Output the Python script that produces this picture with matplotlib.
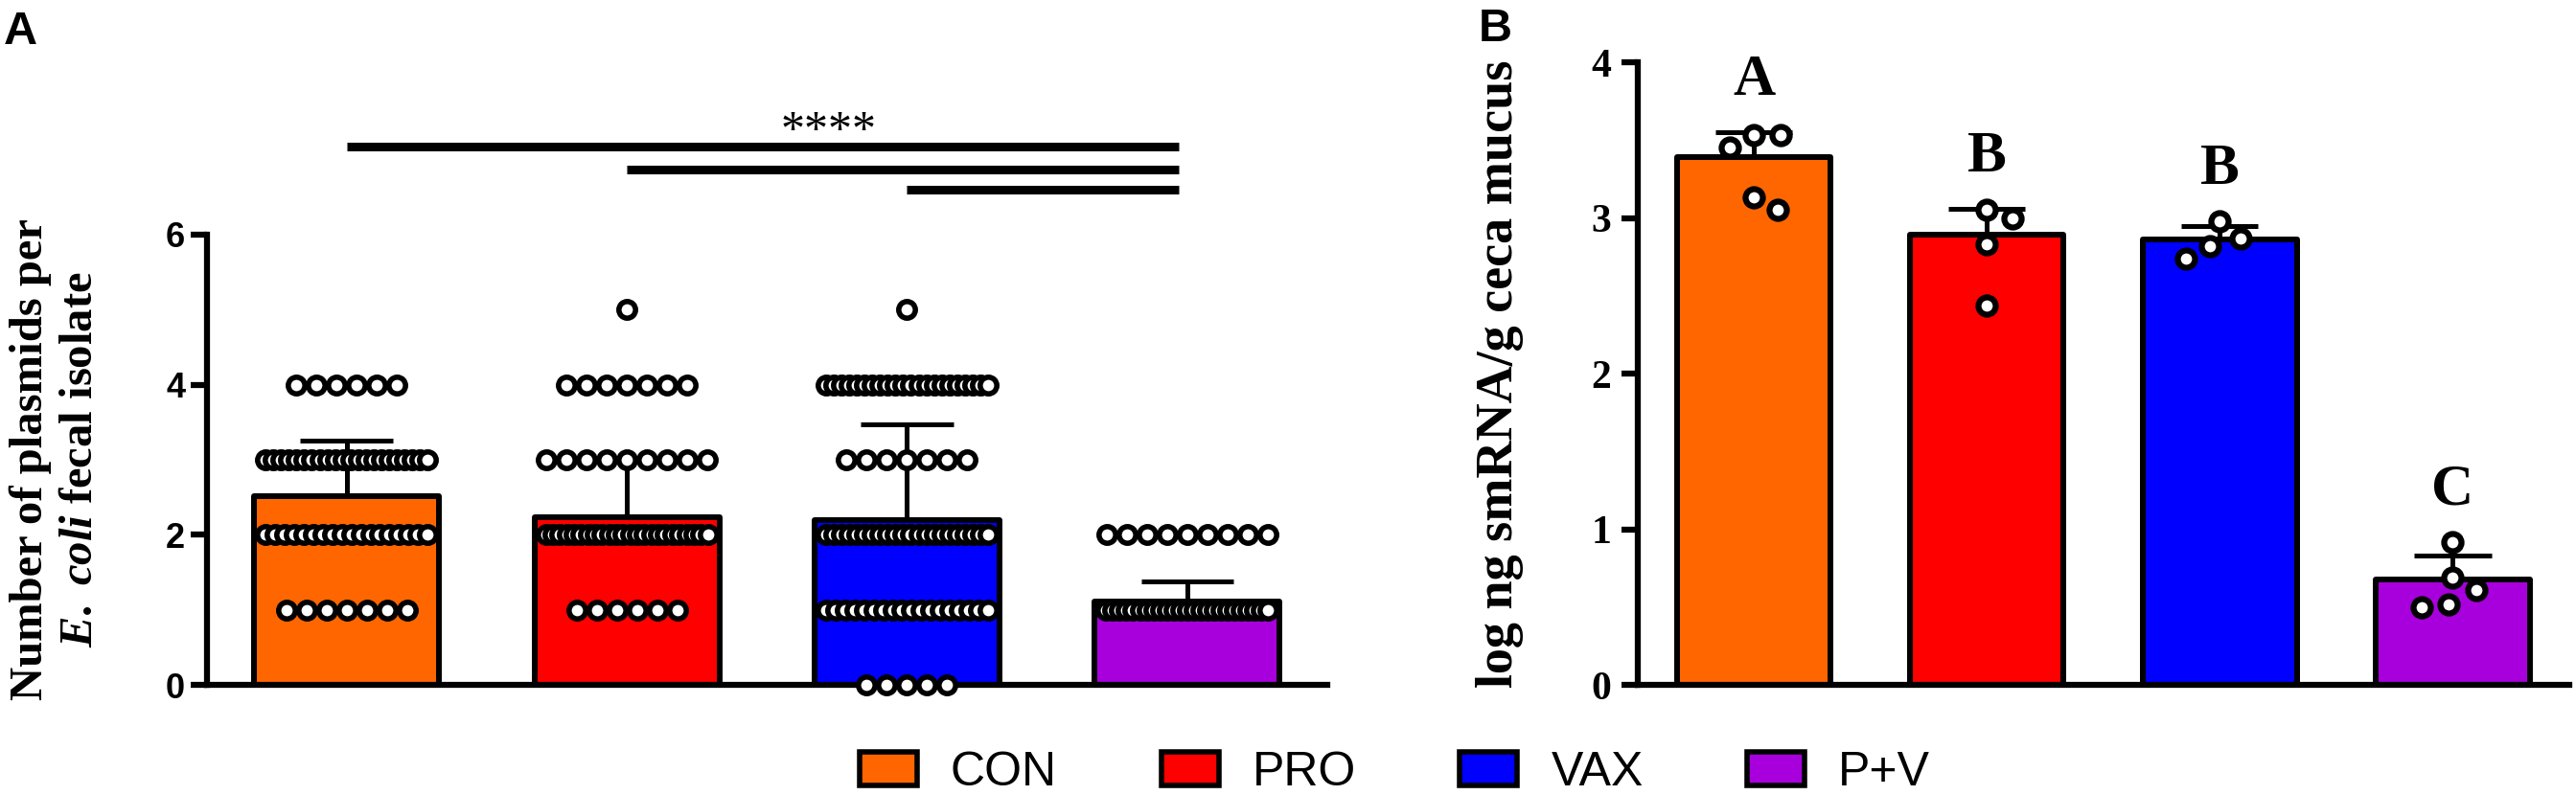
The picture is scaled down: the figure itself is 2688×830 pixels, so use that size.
import numpy as np
import matplotlib
matplotlib.use('Agg')
import matplotlib.pyplot as plt
from matplotlib.patches import Patch

# ---------------- data ----------------
groups = ['CON', 'PRO', 'VAX', 'P+V']
colors = ['#FF6600', '#FF0000', '#0000FF', '#A800DD']

# Panel A: number of plasmids per isolate -> how many isolates at each level
a_levels = [5, 4, 3, 2, 1, 0]
a_counts_con = [0, 6, 22, 18, 7, 0]
a_counts_pro = [1, 7, 9, 24, 6, 0]
a_counts_vax = [1, 22, 7, 22, 18, 5]
a_counts_pv = [0, 0, 0, 9, 25, 0]
a_mean = [2.52, 2.23, 2.20, 1.11]
a_sd = [0.73, 0.74, 1.27, 0.27]
a_sig_starts = [0, 1, 2]      # comparison lines: group index -> P+V
a_sig_end = 3
a_sig_text = '****'

# Panel B: log ng smRNA / g ceca mucus
b_con = [3.53, 3.53, 3.45, 3.13, 3.05]
b_pro = [3.05, 3.00, 2.83, 2.44]
b_vax = [2.98, 2.87, 2.82, 2.74]
b_pv = [0.92, 0.69, 0.61, 0.52, 0.50]
b_mean = [3.39, 2.89, 2.86, 0.68]
b_sem = [0.16, 0.17, 0.09, 0.15]
b_letters = ['A', 'B', 'B', 'C']

a_yticks = [0, 2, 4, 6]
b_yticks = [0, 1, 2, 3, 4]

# ---------------- style ----------------
SERIF = ['Liberation Serif', 'DejaVu Serif']
SANS = ['Liberation Sans', 'DejaVu Sans']
NARROW = ['Liberation Sans Narrow', 'Liberation Sans', 'DejaVu Sans']
plt.rcParams['mathtext.fontset'] = 'custom'
plt.rcParams['mathtext.rm'] = 'Liberation Serif:bold'
plt.rcParams['mathtext.it'] = 'Liberation Serif:italic:bold'
plt.rcParams['mathtext.bf'] = 'Liberation Serif:bold'

W, H = 2688, 830
fig = plt.figure(figsize=(W / 100, H / 100), dpi=100)
fig.patch.set_facecolor('white')

axA = fig.add_axes([215.5 / W, 115 / H, (1385 - 215.5) / W, (715 - 245) / H])
axB = fig.add_axes([1708.5 / W, 115 / H, (2681 - 1708.5) / W, (715 - 65) / H])

LW = 4.5
BAR_W = 0.66
x = np.arange(len(groups))


def style_axes(ax, ylim, yticks, label_font, label_size, pad):
    ax.set_xlim(-0.5, 3.5)
    ax.set_ylim(*ylim)
    ax.set_xticks([])
    ax.set_yticks(yticks)
    ax.set_yticklabels([str(t) for t in yticks], family=label_font,
                       fontweight='bold', fontsize=label_size)
    for s in ['top', 'right']:
        ax.spines[s].set_visible(False)
    for s in ['left', 'bottom']:
        ax.spines[s].set_linewidth(LW)
        ax.spines[s].set_capstyle('projecting')
    ax.tick_params(axis='y', length=12.5, width=LW, direction='out', pad=pad)
    ax.patch.set_alpha(0)


style_axes(axA, (0, 6), a_yticks, SANS, 26, 3.6)
style_axes(axB, (0, 4), b_yticks, SERIF, 30, 7.2)


def px_per_unit(ax):
    t = ax.transData
    return (t.transform((1, 0))[0] - t.transform((0, 0))[0],
            t.transform((0, 1))[1] - t.transform((0, 0))[1])


def draw_bars(ax, means):
    ax.bar(x, means, width=BAR_W, color=colors, edgecolor='black',
           linewidth=4.3, joinstyle='round', zorder=2)


def draw_err(ax, means, err, cap_w):
    tops = np.array(means) + np.array(err)
    ax.vlines(x, means, tops, colors='black', linewidth=3.6, zorder=3)
    ax.hlines(tops, x - cap_w / 2, x + cap_w / 2, colors='black',
              linewidth=3.6, zorder=3, clip_on=False)
    return tops


# ---------- Panel A ----------
draw_bars(axA, a_mean)
draw_err(axA, a_mean, a_sd, 0.33)

pxA, pyA = px_per_unit(axA)
spacing = 21 / pxA
maxspan = 169 / pxA
for gi, counts in enumerate([a_counts_con, a_counts_pro, a_counts_vax, a_counts_pv]):
    xs, ys = [], []
    for lev, n in zip(a_levels, counts):
        if n == 0:
            continue
        s = min(spacing, maxspan / (n - 1)) if n > 1 else 0
        for i in range(n):
            xs.append(gi + (i - (n - 1) / 2) * s)
            ys.append(lev)
    axA.plot(xs, ys, 'o', ms=12.5, mfc='white', mec='black', mew=4,
             ls='none', clip_on=False, zorder=4)

# significance lines
sig_y = [7.17, 6.87, 6.60]
for st, yy in zip(a_sig_starts, sig_y):
    axA.plot([st, a_sig_end - 0.03], [yy, yy], color='black', lw=6.5,
             solid_capstyle='butt', clip_on=False)
axA.text(1.72, 7.21, a_sig_text, ha='center', va='baseline', fontsize=36,
         family=SERIF)

# ---------- Panel B ----------
draw_bars(axB, b_mean)
b_tops = draw_err(axB, b_mean, b_sem, 0.33)

pxB, pyB = px_per_unit(axB)


def swarm(values, d_px):
    ys = [v * pyB for v in values]
    order = sorted(range(len(values)), key=lambda i: -values[i])
    placed = []
    offs = [0.0] * len(values)
    for i in order:
        y = ys[i]
        cands = [0.0]
        for pdx, py in placed:
            dy = abs(y - py)
            if dy < d_px:
                w = np.sqrt(d_px ** 2 - dy ** 2)
                cands += [pdx + w, pdx - w]
        valid = [c for c in cands
                 if all(np.hypot(c - pdx, y - py) >= d_px - 1e-6 for pdx, py in placed)]
        best = min(valid, key=abs)
        placed.append((best, y))
        offs[i] = best / pxB
    return offs


for gi, vals in enumerate([b_con, b_pro, b_vax, b_pv]):
    offs = swarm(vals, 28)
    axB.plot([gi + o for o in offs], vals, 'o', ms=13, mfc='white', mec='black',
             mew=4.5, ls='none', clip_on=False, zorder=4)
    top = max(b_tops[gi], max(vals))
    axB.text(gi, top + 0.24, b_letters[gi], ha='center', va='baseline',
             fontsize=44, fontweight='bold', family=SERIF)

# ---------- labels ----------
fig.text(58 / W, 1 - 480 / H,
         'Number of plasmids per\n$\\mathit{E.\\ coli}$ fecal isolate',
         rotation=90, ha='center', va='center', ma='center', fontsize=35,
         fontweight='bold', family=SERIF, linespacing=1.25)
fig.text(1565 / W, 1 - 390 / H, 'log ng smRNA/g ceca mucus', rotation=90,
         ha='center', va='center', fontsize=39, fontweight='bold', family=SERIF)

fig.text(4 / W, 1 - 11 / H, 'A', ha='left', va='top', fontsize=35,
         fontweight='bold', family=SANS)
fig.text(1543 / W, 1 - 8 / H, 'B', ha='left', va='top', fontsize=35,
         fontweight='bold', family=SANS)

# ---------- legend ----------
handles = [Patch(facecolor=c, edgecolor='black', linewidth=4, joinstyle='round')
           for c in colors]
fig.legend(handles, groups, loc='center', bbox_to_anchor=(0.5415, 0.028),
           ncol=4, frameon=False, handlelength=1.2, handleheight=0.7,
           handletextpad=0.7, columnspacing=2.17, borderpad=0,
           prop={'family': NARROW, 'size': 36})

fig.savefig('out.png', dpi=100, facecolor='white')
